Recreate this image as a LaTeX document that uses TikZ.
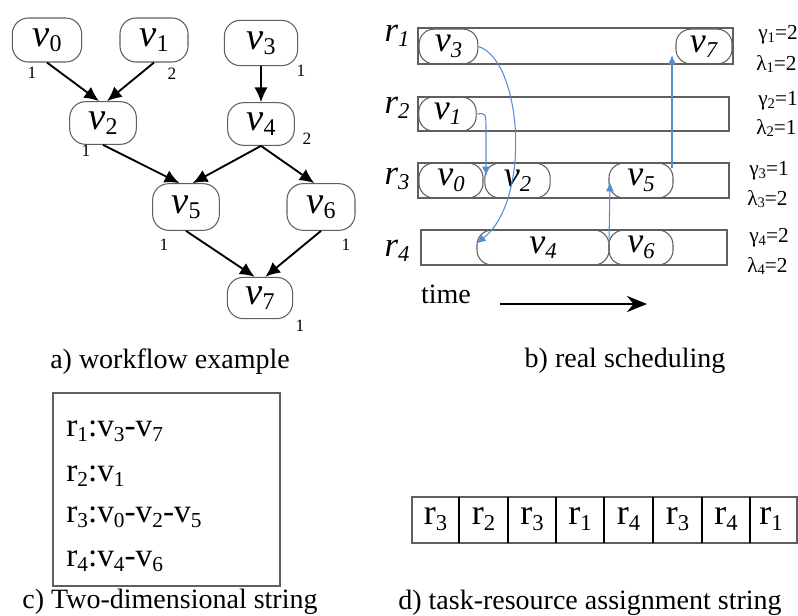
\documentclass[tikz,border=0pt]{standalone}
\usepackage{fontspec}
\setmainfont{Liberation Serif}
\usetikzlibrary{arrows.meta,calc}
\definecolor{edgegray}{RGB}{95,95,95}
\definecolor{schedblue}{RGB}{84,141,212}
\newcommand\gv[1]{\fontsize{29}{29}\selectfont\textit{v}\raisebox{-4pt}{\fontsize{18}{18}\selectfont #1}}
\newcommand\bv[1]{\fontsize{27}{27}\selectfont\textit{v}\raisebox{-4pt}{\fontsize{17}{17}\selectfont\textit{#1}}}
\newcommand\br[1]{\fontsize{26}{26}\selectfont\textit{r}\raisebox{-4pt}{\fontsize{17}{17}\selectfont\textit{#1}}}
\newcommand\cs[1]{\raisebox{-3.5pt}{\fontsize{16}{16}\selectfont #1}}
\newcommand\ds[1]{\raisebox{-4pt}{\fontsize{17}{17}\selectfont #1}}
\newcommand\gs[1]{\raisebox{-2pt}{\fontsize{11}{11}\selectfont #1}}
\begin{document}
\begin{tikzpicture}[x=0.75pt,y=-0.75pt,
  gnode/.style={draw=edgegray, line width=0.8pt, rounded corners=12pt, inner sep=0pt, minimum height=33pt, minimum width=51pt},
  bnode/.style={draw=edgegray, line width=0.8pt, rounded corners=11pt, inner sep=0pt, minimum height=26pt, minimum width=47pt},
  lane/.style={draw=edgegray, line width=0.8pt},
  wt/.style={font=\fontsize{13}{13}\selectfont, inner sep=0pt},
  capt/.style={font=\fontsize{21}{24}\selectfont, inner sep=0pt},
  gl/.style={font=\fontsize{16}{16}\selectfont, inner sep=0pt, anchor=west},
  garrow/.style={line width=1.4pt, -{Latex[length=11pt,width=10pt]}},
  sarrow/.style={schedblue, line width=0.8pt, -{Latex[length=7pt,width=6pt]}},
  cell/.style={inner sep=0pt, font=\fontsize{27}{27}\selectfont},
  ctext/.style={anchor=west, inner sep=0pt, font=\fontsize{25}{25}\selectfont}
]
\useasboundingbox (0,0) rectangle (798,615);

% ---------- a) workflow ----------
\node[gnode, minimum width=52pt] (v0) at (47,40) {\gv{0}};
\node[gnode, minimum width=51pt] (v1) at (154,40) {\gv{1}};
\node[gnode, minimum width=55pt, minimum height=34pt] (v3) at (261,43) {\gv{3}};
\node[gnode, minimum width=50pt, minimum height=32pt] (v2) at (103,123) {\gv{2}};
\node[gnode, minimum width=50pt, minimum height=32pt] (v4) at (261,124) {\gv{4}};
\node[gnode, minimum width=50pt, minimum height=35pt] (v5) at (186,207) {\gv{5}};
\node[gnode, minimum width=51pt, minimum height=35pt] (v6) at (321,207) {\gv{6}};
\node[gnode, minimum width=49pt, minimum height=31pt] (v7) at (260,298) {\gv{7}};

\node[wt] (w0) at (32,73) {1};
\node[wt] (w1) at (172,74) {2};
\node[wt] (w3) at (301,71) {1};
\node[wt] (w2) at (86,151) {1};
\node[wt] (w4) at (307,139) {2};
\node[wt] (w5) at (164,245) {1};
\node[wt] (w6) at (346,245) {1};
\node[wt] (w7) at (300,326) {1};

\draw[garrow] (v0.south) -- ([xshift=-3pt]v2.north);
\draw[garrow] (v1.south) -- ([xshift=3pt]v2.north);
\draw[garrow] (v3.south) -- (v4.north);
\draw[garrow] (v2.south) -- ([xshift=-5pt]v5.north);
\draw[garrow] (v4.south) -- ([xshift=5pt]v5.north);
\draw[garrow] (v4.south) -- ([xshift=-5pt]v6.north);
\draw[garrow] (v5.south) -- ([xshift=-4pt]v7.north);
\draw[garrow] (v6.south) -- ([xshift=4pt]v7.north);

\node[capt] (capa) at (170,362) {a) workflow example};

% ---------- b) real scheduling ----------
\draw[lane] (418,28) rectangle (733,64);
\draw[lane] (418,97) rectangle (729,131);
\draw[lane] (418,163) rectangle (729,198);
\draw[lane] (421,230) rectangle (727,265);

\node[inner sep=0pt] (r1) at (397,36) {\br{1}};
\node[inner sep=0pt] (r2) at (397,108) {\br{2}};
\node[inner sep=0pt] (r3) at (397,179) {\br{3}};
\node[inner sep=0pt] (r4) at (397,251) {\br{4}};

\node[bnode, minimum width=44pt] (b3) at (448.5,46.5) {\bv{3}};
\node[bnode, minimum width=42pt] (b7) at (704,46.5) {\bv{7}};
\node[bnode, minimum width=43pt, minimum height=25.5pt] (b1) at (447.5,114) {\bv{1}};
\node[bnode, minimum width=48pt] (b0) at (451,180.5) {\bv{0}};
\node[bnode, minimum width=49pt] (b2) at (517.5,180.5) {\bv{2}};
\node[bnode, minimum width=48pt] (b5) at (641,180.5) {\bv{5}};
\node[bnode, minimum width=99pt] (b4) at (543,247.5) {\bv{4}};
\node[bnode, minimum width=48pt] (b6) at (641,247.5) {\bv{6}};

\node[gl] (g1) at (758,35) {γ\gs{1}=2};
\node[gl] (l1) at (756,64) {λ\gs{1}=2};
\node[gl] (g2) at (758,101) {γ\gs{2}=1};
\node[gl] (l2) at (756,128) {λ\gs{2}=1};
\node[gl] (g3) at (749,171) {γ\gs{3}=1};
\node[gl] (l3) at (747,199) {λ\gs{3}=2};
\node[gl] (g4) at (749,238) {γ\gs{4}=2};
\node[gl] (l4) at (747,266) {λ\gs{4}=2};

\coordinate (j1) at (486,176);
\coordinate (s4) at (672,168);
\coordinate (e4) at (672,55);
\coordinate (e3) at (610,182);
\coordinate (s3) at (609,243);
\draw[sarrow] (b3.east) .. controls (522,60) and (532,200) .. ([yshift=3pt]b4.west);
\draw[sarrow] (b1.east) .. controls (486,113) .. (486,130) -- (j1);
\draw[sarrow] (s3) -- (e3);
\draw[sarrow] (s4) -- (e4);

\node[inner sep=0pt, font=\fontsize{21}{21}\selectfont] (time) at (446,294) {time};
\coordinate (ta) at (500,304);
\coordinate (tb) at (647,304);
\draw[line width=2pt, -{Stealth[length=15pt,width=12pt]}] (ta) -- (tb);

\node[capt] (capb) at (625,361) {b) real scheduling};

% ---------- c) two-dimensional string ----------
\draw[lane] (53,393) rectangle (280,586);
\node[ctext] (c1) at (66,431) {r\cs{1}:v\cs{3}-v\cs{7}};
\node[ctext] (c2) at (66,476) {r\cs{2}:v\cs{1}};
\node[ctext] (c3) at (66,517) {r\cs{3}:v\cs{0}-v\cs{2}-v\cs{5}};
\node[ctext] (c4) at (66,561) {r\cs{4}:v\cs{4}-v\cs{6}};
\node[capt] (capc) at (170,602) {c) Two-dimensional string};

% ---------- d) task-resource assignment string ----------
\draw[lane] (412,497) rectangle (797,543);
\foreach \xx in {459,508,556,604,653,702,750}
  \draw[line width=1.8pt] (\xx,497) -- (\xx,543);
\node[cell] (d1) at (435.5,519) {r\ds{3}};
\node[cell] (d2) at (483.5,519) {r\ds{2}};
\node[cell] (d3) at (532,519) {r\ds{3}};
\node[cell] (d4) at (580,519) {r\ds{1}};
\node[cell] (d5) at (628.5,519) {r\ds{4}};
\node[cell] (d6) at (677.5,519) {r\ds{3}};
\node[cell] (d7) at (726,519) {r\ds{4}};
\node[cell] (d8) at (771,519) {r\ds{1}};
\node[capt] (capd) at (590,603) {d) task-resource assignment string};
\end{tikzpicture}
\end{document}
